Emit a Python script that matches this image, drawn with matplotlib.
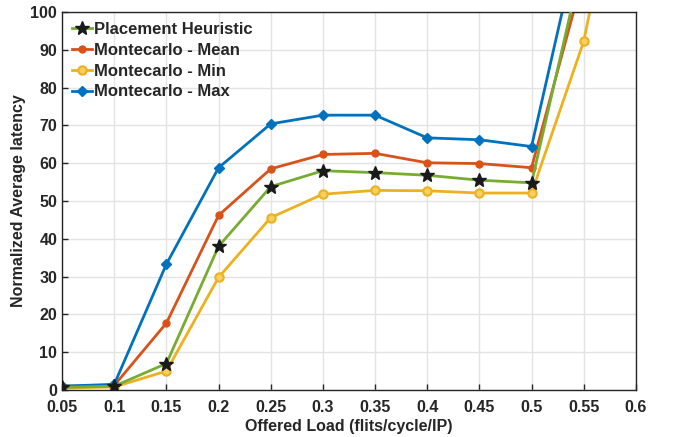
import numpy as np
import matplotlib.pyplot as plt

plt.rcParams['font.family'] = ['Liberation Sans', 'DejaVu Sans']
plt.rcParams['font.weight'] = 'bold'

load = [0.05, 0.1, 0.15, 0.2, 0.25, 0.3, 0.35, 0.4, 0.45, 0.5, 0.55, 0.6]
heur = [0.7, 1.0, 7.0, 38.0, 53.8, 58.0, 57.5, 56.8, 55.5, 54.8, 115, 180]
mc_mean = [1.0, 1.2, 17.7, 46.2, 58.5, 62.3, 62.6, 60.1, 59.9, 58.8, 110, 170]
mc_min = [0.5, 0.8, 5.0, 29.8, 45.6, 51.8, 52.8, 52.7, 52.1, 52.1, 92.2, 160]
mc_max = [1.0, 1.5, 33.3, 58.8, 70.4, 72.7, 72.7, 66.7, 66.2, 64.4, 125, 190]

fig = plt.figure(figsize=(6.75, 4.37), dpi=100)
ax = fig.add_axes([0.092, 0.1076, 0.850, 0.865])

ax.plot(load, heur, color='#77AC30', lw=2, marker='*', ms=10,
        mfc='#1a1a1a', mec='#1a1a1a', label='Placement Heuristic', zorder=3)
ax.plot(load, mc_mean, color='#D95319', lw=2, marker='o', ms=5,
        mfc='#D95319', mec='#D95319', label='Montecarlo - Mean')
ax.plot(load, mc_min, color='#EDB120', lw=2, marker='o', ms=6,
        mfc='#F5CF60', mec='#EDB120', mew=1.5, label='Montecarlo - Min')
ax.plot(load, mc_max, color='#0072BD', lw=2, marker='D', ms=5,
        mfc='#0072BD', mec='#0072BD', label='Montecarlo - Max')

ax.set_xlim(0.05, 0.6)
ax.set_ylim(0, 100)
ax.set_xticks(load)
ax.set_xticklabels([('%g' % v) for v in load])
ax.set_yticks(np.arange(0, 101, 10))
ax.grid(True, color='#e3e3e3', lw=1)
ax.set_axisbelow(True)
ax.tick_params(direction='in', labelsize=11.5, colors='#262626', length=4, width=1)
ax.tick_params(axis='x', pad=7)
for lbl in ax.get_xticklabels() + ax.get_yticklabels():
    lbl.set_fontweight('bold')
for s in ax.spines.values():
    s.set_color('#262626')
    s.set_linewidth(1)

ax.set_xlabel('Offered Load (flits/cycle/IP)', fontsize=11.5, fontweight='bold', color='#262626', labelpad=3)
ax.set_ylabel('Normalized Average latency', fontsize=11.5, fontweight='bold', color='#262626', labelpad=3)

leg = ax.legend(loc='upper left', frameon=False, fontsize=12, handlelength=1.2,
                handletextpad=0.1, labelspacing=0.35, borderaxespad=0.2)
for t in leg.get_texts():
    t.set_fontweight('bold')
    t.set_color('#262626')

fig.savefig('out.png', dpi=100)
